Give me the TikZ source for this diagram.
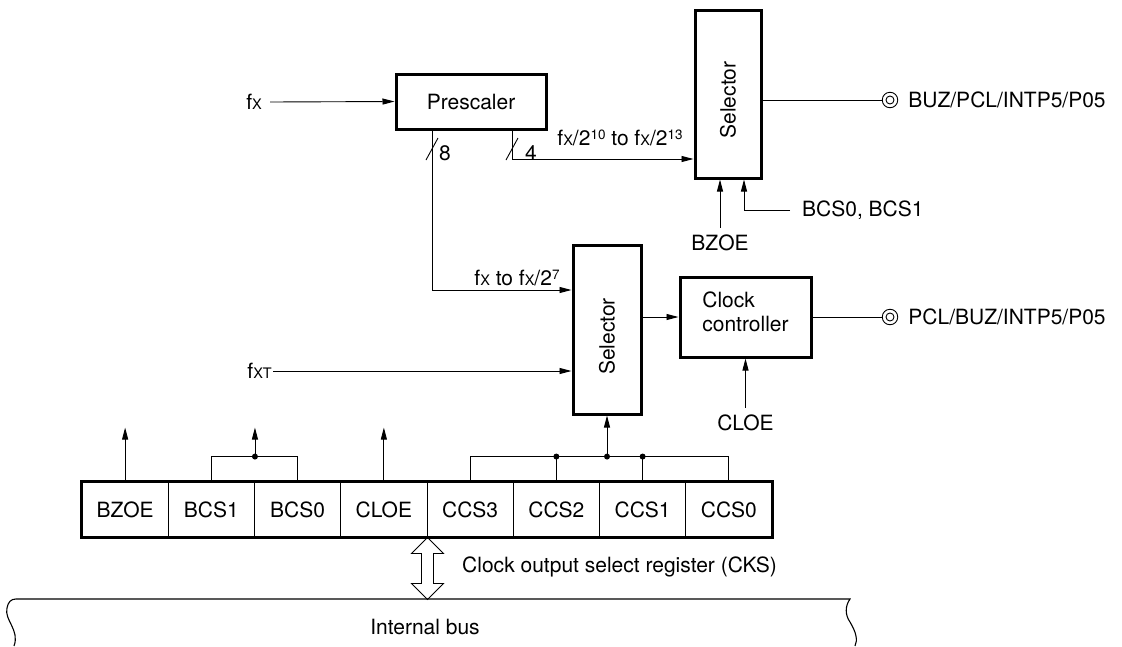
\documentclass[tikz,border=0pt]{standalone}
\usepackage{fontspec}
\setmainfont{TeX Gyre Heros}
\usetikzlibrary{arrows.meta,positioning,calc}
\newcommand{\fX}{f{\fontsize{14.5}{14}\selectfont X}}
\newcommand{\fXT}{f{\fontsize{14.5}{14}\selectfont XT}}
\newcommand{\pw}[1]{\raisebox{6.5pt}{\fontsize{13.5}{14}\selectfont #1}}
\tikzset{
  blk/.style   = {draw, line width=3pt, inner sep=0pt},
  sig/.style   = {line width=0.9pt},
  ar/.style    = {sig, -{Triangle[length=12pt,width=6pt]}},
  lbl/.style   = {inner sep=2pt},
  cell/.style  = {draw, line width=0.9pt, minimum width=86.25pt,
                  minimum height=55pt, inner sep=0pt},
  pinc/.style  = {circle, draw, line width=0.9pt, minimum size=15.5pt, inner sep=0pt},
  dot/.style   = {circle, fill, inner sep=0pt, minimum size=6pt},
}

\begin{document}
\begin{tikzpicture}[x=1pt,y=-1pt, font=\fontsize{21}{24.5}\selectfont]
\useasboundingbox (0,0) rectangle (1122,646);

% -- blocks ------------------------------------------------------------------
\node[blk, minimum width=150, minimum height=55] (pre) at (471,101.5) {Prescaler};
\node[blk, minimum width=66,  minimum height=168] (sel1) at (728,94) {};
\node[rotate=90] (sel1t) at ([yshift=-6pt]sel1.center) {Selector};
\node[blk, minimum width=68,  minimum height=169] (sel2) at (607,329.5) {};
\node[rotate=90] (sel2t) at ([yshift=-7pt]sel2.center) {Selector};
\node[blk, minimum width=131, minimum height=80] (clk) at (745.5,317) {};
\node[align=left] (clkt) at ([yshift=5pt]clk.center) {Clock\\controller};

% -- clock inputs ------------------------------------------------------------
\node[lbl, anchor=east, inner xsep=8pt] (fx) at (270,102) {\fX};
\draw[ar] (fx.east) -- (pre.west);
\node[lbl, anchor=east, inner xsep=1pt] (fxt) at (273,371) {\fXT};
\draw[ar] (fxt.east) -- (sel2.west |- fxt.east);

% -- prescaler outputs -------------------------------------------------------
\draw[ar] ([xshift=-39pt]pre.south) |- (sel2.west |- 0,290);
\draw[ar] ([xshift=41pt]pre.south) |- (sel1.west |- 0,159);
\draw[sig] (426,160) -- (438,138);
\draw[sig] (506,160) -- (518,138);
\node[lbl] (n8) at (445,153) {8};
\node[lbl] (n4) at (531,153) {4};
\node[lbl] (rg1) at (620,138) {\fX/2\pw{10} to \fX/2\pw{13}};
\node[lbl] (rg2) at (517,278) {\fX\ to \fX/2\pw{7}};

% -- selector 1 --------------------------------------------------------------
\node[pinc] (pbuz) at (890,100) {};
\draw[sig] (pbuz.center) circle[radius=4pt];
\draw[sig] (sel1.east |- pbuz) -- (pbuz);
\node[lbl, right=8pt of pbuz] (tbuz) {BUZ/PCL/INTP5/P05};
\node[lbl, inner ysep=7pt] (bzoe) at (720,243) {BZOE};
\draw[ar] (bzoe.north) -- (bzoe.north |- sel1.south);
\node[lbl, anchor=west, inner xsep=12pt] (bcs) at (790,210) {BCS0, BCS1};
\draw[ar] (bcs.west) -| ([xshift=16pt]sel1.south);

% -- selector 2 / clock controller -------------------------------------------
\draw[ar] (sel2.east |- clk.west) -- (clk.west);
\node[pinc] (ppcl) at (890,317) {};
\draw[sig] (ppcl.center) circle[radius=4pt];
\draw[sig] (clk.east |- ppcl) -- (ppcl);
\node[lbl, right=8pt of ppcl] (tpcl) {PCL/BUZ/INTP5/P05};
\node[lbl, inner ysep=7pt] (cloe) at (745.5,423) {CLOE};
\draw[ar] (cloe.north) -- (clk.south);

% -- register CKS ------------------------------------------------------------
\foreach \n [count=\i] in {BZOE,BCS1,BCS0,CLOE,CCS3,CCS2,CCS1,CCS0}
  \node[cell] (r\i) at ({82+(\i-0.5)*86.25},509.5) {\n};
\draw[line width=3pt] (r1.north west) rectangle (r8.south east);

\path (r1.north) ++(0,-54) coordinate (u1);
\draw[ar] (r1.north) -- (u1);
\draw[sig] (r2.north) -- ++(0,-25) coordinate (b2) -| (r3.north);
\node[dot] (jb) at (r2.north east |- b2) {};
\path (jb) ++(0,-29) coordinate (u2);
\draw[ar] (jb.center) -- (u2);
\path (r4.north) ++(0,-54) coordinate (u4);
\draw[ar] (r4.north) -- (u4);

\draw[sig] (r5.north) -- ++(0,-25) coordinate (c5) -| (r8.north);
\draw[sig] (r6.north) -- ++(0,-25) coordinate (c6);
\draw[sig] (r7.north) -- ++(0,-25) coordinate (c7);
\node[dot] (d6) at (c6) {};
\node[dot] (d7) at (c7) {};
\node[dot] (jc) at (sel2.south |- c5) {};
\draw[ar] (jc.center) -- (sel2.south);

% -- internal bus ------------------------------------------------------------
\coordinate (da) at (r4.south east);
\draw[sig] (da) -- ++(16,16) -- ++(-10,0) -- ++(0,30) -- ++(10,0) -- ++(-16,16)
  -- ++(-16,-16) -- ++(10,0) -- ++(0,-30) -- ++(-10,0) -- cycle;
\node[lbl, anchor=west] (cks) at (460,567) {Clock output select register (CKS)};
\draw[line width=1.1pt] (14,646) .. controls (20,630) and (4,620) .. (7,608)
  .. controls (8,602) and (11,599) .. (16,599) -- (850,599)
  .. controls (845,606) and (845,615) .. (850,622)
  .. controls (856,632) and (858,640) .. (855,646);
\node[lbl] (bus) at (425,627) {Internal bus};
\end{tikzpicture}
\end{document}
